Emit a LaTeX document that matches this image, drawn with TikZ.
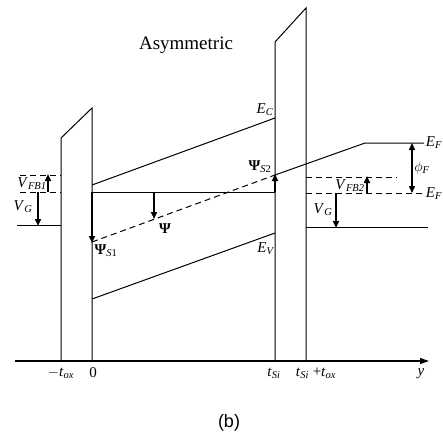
\documentclass[tikz,border=0pt]{standalone}
\usepackage{fontspec}
\setmainfont{Liberation Serif}
\newfontfamily\arialfont{Liberation Sans}
\usetikzlibrary{arrows.meta}
\newcommand{\lab}[2]{\textit{#1}\textsubscript{\textit{#2}}}
\newcommand{\Psym}{\textbf{Ψ}}
\tikzset{
  ln/.style={line width=1pt},
  dsh/.style={line width=1pt, dash pattern=on 6pt off 4pt},
  arr/.style={line width=1.8pt, -{Triangle[length=7pt,width=6pt]}},
  darr/.style={line width=1.4pt, {Triangle[length=7pt,width=6pt]}-{Triangle[length=7pt,width=6pt]}},
  lbl/.style={font=\fontsize{15}{15}\selectfont, inner sep=0pt},
}
\begin{document}
\begin{tikzpicture}[x=1pt,y=-1pt]
\useasboundingbox (0,0) rectangle (443,439);
% coordinates
\coordinate (ax0) at (15,361);
\coordinate (ax1) at (429,361);
\coordinate (L1b) at (61,361);
\coordinate (L1t) at (61,138);
\coordinate (L2t) at (92,108);
\coordinate (L2b) at (92,361);
\coordinate (R1b) at (275,361);
\coordinate (R1t) at (275,42);
\coordinate (R2t) at (306,8);
\coordinate (R2b) at (306,361);
% axis
\draw[line width=1.3pt, -{Triangle[length=9pt,width=6pt]}] (ax0) -- (ax1);
% oxides
\draw[ln] (L1b) -- (L1t) -- (L2t) -- (L2b);
\draw[ln] (R1b) -- (R1t) -- (R2t) -- (R2b);
% left gate
\coordinate (lg0) at (17,225); \coordinate (lg1) at (61,225);
\coordinate (lf0) at (20,175); \coordinate (lf1) at (61,175);
\coordinate (le0) at (20,192); \coordinate (le1) at (61,192);
\draw[ln] (lg0) -- (lg1);
\draw[dsh] (lf0) -- (lf1);
\draw[dsh] (le0) -- (le1);
% silicon
\coordinate (s0) at (92,192); \coordinate (s1) at (275,192);
\coordinate (ec0) at (92,185); \coordinate (ec1) at (275,118);
\coordinate (ev0) at (92,299); \coordinate (ev1) at (275,233);
\coordinate (ps1) at (92,242); \coordinate (ps2) at (275,175);
\draw[ln] (s0) -- (s1);
\draw[ln] (ec0) -- (ec1);
\draw[ln] (ev0) -- (ev1);
\draw[dsh] (ps1) -- (ps2);
% right side
\coordinate (rk) at (365,143); \coordinate (re) at (424,143);
\draw[ln] (ps2) -- (rk) -- (re);
\coordinate (rf0) at (306,193); \coordinate (rf1) at (425,193);
\coordinate (rb0) at (306,177); \coordinate (rb1) at (397,177);
\coordinate (rg0) at (306,227); \coordinate (rg1) at (428,227);
\draw[dsh] (rf0) -- (rf1);
\draw[dsh] (rb0) -- (rb1);
\draw[ln] (rg0) -- (rg1);
% arrows
\coordinate (a1s) at (92,192); \coordinate (a1e) at (92,243);
\coordinate (a2s) at (154,192); \coordinate (a2e) at (154,219);
\coordinate (a3s) at (275,192); \coordinate (a3e) at (275,174);
\coordinate (a4s) at (48,192); \coordinate (a4e) at (48,174);
\coordinate (a5s) at (38,192); \coordinate (a5e) at (38,226);
\coordinate (a6s) at (367,193); \coordinate (a6e) at (367,176);
\coordinate (a7s) at (336,193); \coordinate (a7e) at (336,228);
\coordinate (a8s) at (412,143); \coordinate (a8e) at (412,193);
\draw[arr] (a1s) -- (a1e);
\draw[arr] (a2s) -- (a2e);
\draw[arr] (a3s) -- (a3e);
\draw[arr] (a4s) -- (a4e);
\draw[arr] (a5s) -- (a5e);
\draw[arr] (a6s) -- (a6e);
\draw[arr] (a7s) -- (a7e);
\draw[darr] (a8s) -- (a8e);
% labels
\node (title) at (186,45) {\fontsize{19}{19}\selectfont Asymmetric};
\node[lbl] (ecl) at (265,110) {\lab{E}{C}};
\node[lbl] (evl) at (266,249) {\lab{E}{V}};
\node[lbl] (ps1l) at (106,251) {\Psym\textsubscript{\textit{S}1}};
\node[lbl] (psl) at (165,229) {\Psym};
\node[lbl] (ps2l) at (260,167) {\Psym\textsubscript{\textit{S}2}};
\node[lbl] (vfb1) at (32,184) {\lab{V}{FB1}};
\node[lbl] (vg1) at (23,207) {\lab{V}{G}};
\node[lbl] (vfb2) at (350,186) {\lab{V}{FB2}};
\node[lbl] (vg2) at (323,210) {\lab{V}{G}};
\node[lbl] (phil) at (422,168) {$\phi$\textsubscript{\textit{F}}};
\node[lbl] (ef1) at (434,143) {\lab{E}{F}};
\node[lbl] (ef2) at (434,194) {\lab{E}{F}};
\node[lbl] (x1) at (61,373) {$-$\lab{t}{ox}};
\node[lbl] (x2) at (93,373) {0};
\node[lbl] (x3) at (274,373) {\lab{t}{Si}};
\node[lbl] (x4) at (316,373) {\lab{t}{Si} +\lab{t}{ox}};
\node[lbl] (x5) at (421,374) {\textit{y}};
\node (cap) at (229,423) {\arialfont\fontsize{18}{18}\selectfont (b)};
\end{tikzpicture}
\end{document}
